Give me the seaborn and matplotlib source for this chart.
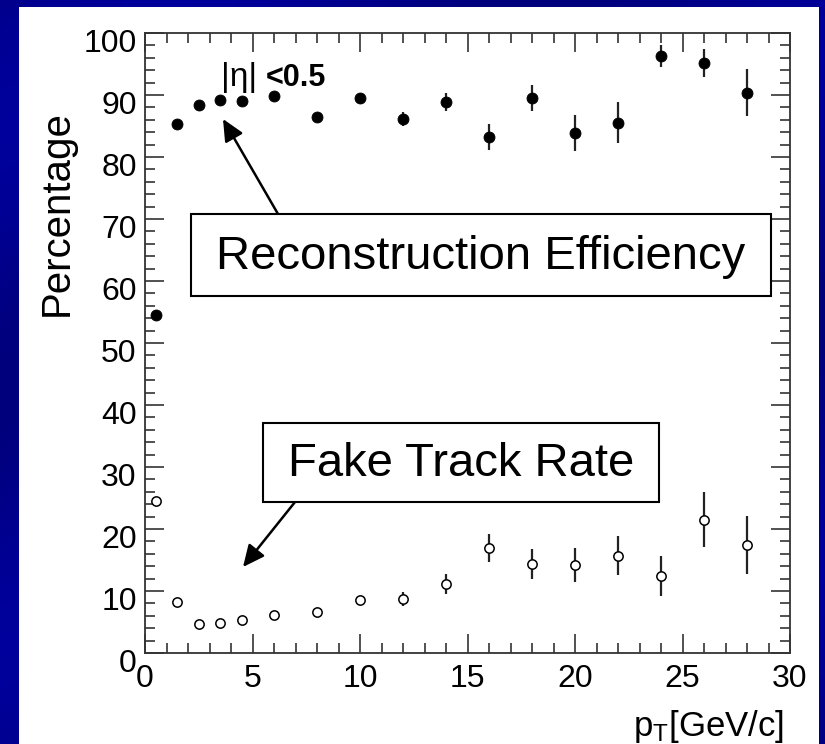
import numpy as np
import pandas as pd
import matplotlib
matplotlib.use("Agg")
import matplotlib.pyplot as plt
import matplotlib.transforms as mtrans
from matplotlib.patches import Rectangle
from matplotlib.ticker import MultipleLocator
from matplotlib.colors import LinearSegmentedColormap
import seaborn as sns

# transverse momentum bins
pt = [0.5, 1.5, 2.5, 3.5, 4.5, 6, 8, 10, 12, 14, 16, 18, 20, 22, 24, 26, 28]

# reconstruction efficiency (%)
eff = [54.5, 85.3, 88.4, 89.2, 89.0, 89.8, 86.4, 89.5, 86.1, 88.9, 83.2, 89.5, 83.8, 85.5, 96.3, 95.2, 90.4]
eff_err = [0.4, 0.4, 0.4, 0.4, 0.4, 0.5, 0.6, 0.7, 1.1, 1.4, 2.15, 2.1, 2.9, 3.3, 1.8, 2.3, 3.8]

# fake track rate (%)
fake = [24.5, 8.3, 4.6, 4.9, 5.3, 6.2, 6.6, 8.5, 8.7, 11.1, 16.9, 14.4, 14.2, 15.7, 12.4, 21.5, 17.4]
fake_err = [0.3, 0.3, 0.3, 0.3, 0.3, 0.4, 0.5, 0.6, 1.1, 1.6, 2.3, 2.4, 2.8, 3.1, 3.2, 4.4, 4.7]

df = pd.DataFrame({"pt": pt, "eff": eff, "fake": fake})

sns.set_theme(style="ticks")
plt.rcParams['font.family'] = ['Liberation Sans', 'DejaVu Sans']
plt.rcParams['mathtext.default'] = 'regular'
plt.rcParams['text.color'] = 'black'

W, H = 825, 744
fig = plt.figure(figsize=(W / 100, H / 100), dpi=100)
fig.patch.set_facecolor('#000088')

def fx(px):
    return px / W

def fy(py):
    return 1 - py / H

# navy slide background with a soft diagonal sheen
bg = fig.add_axes([0, 0, 1, 1], zorder=-10)
gx, gy = np.meshgrid(np.linspace(0, 1, 200), np.linspace(0, 1, 200))
sheen = np.sin((gx * 0.8 + gy) * 9) * 0.5 + 0.5
cmap = LinearSegmentedColormap.from_list('navy', ['#00007c', '#00009c'])
bg.imshow(sheen, cmap=cmap, aspect='auto', extent=[0, 1, 0, 1])
bg.set_axis_off()

# white slide panel (behind the plot axes)
fig.patches.append(Rectangle((fx(19), 0), fx(819) - fx(19), fy(7), transform=fig.transFigure,
                             facecolor='white', edgecolor='none', zorder=-5))

ax = fig.add_axes([fx(145), fy(653), fx(790) - fx(145), fy(33) - fy(653)])
ax.set_facecolor('white')

ax.errorbar(df['pt'], df['eff'], yerr=eff_err, fmt='none', ecolor='#222222', elinewidth=1.6, capsize=0, zorder=2)
ax.errorbar(df['pt'], df['fake'], yerr=fake_err, fmt='none', ecolor='#222222', elinewidth=1.6, capsize=0, zorder=2)
sns.scatterplot(data=df, x='pt', y='eff', ax=ax, marker='o', s=62, color='black', edgecolor='black', zorder=3)
sns.scatterplot(data=df, x='pt', y='fake', ax=ax, marker='o', s=45, facecolor='white', edgecolor='black',
                linewidth=1.1, zorder=3)

ax.set_xlim(0, 30)
ax.set_ylim(0, 100)
ax.set_xlabel('')
ax.set_ylabel('')
ax.xaxis.set_major_locator(MultipleLocator(5))
ax.xaxis.set_minor_locator(MultipleLocator(1))
ax.yaxis.set_major_locator(MultipleLocator(10))
ax.yaxis.set_minor_locator(MultipleLocator(2))
ax.tick_params(which='both', direction='in', top=True, right=True, color='#333333', width=1.2,
               labelsize=23, labelcolor='black')
ax.tick_params(which='major', length=14, pad=6)
ax.tick_params(which='minor', length=7)
ax.tick_params(axis='x', which='major', pad=8)
for sp in ax.spines.values():
    sp.set_color('#333333')
    sp.set_linewidth(1.3)

ax.set_xticks([0, 5, 10, 15, 20, 25, 30])
ax.set_xticklabels(['0', '5', '10', '15', '20', '25', '30'])
# ROOT-like offsets of the tick labels
shift = mtrans.ScaledTranslation(0, -8 / 100, fig.dpi_scale_trans)
for lab in ax.get_yticklabels():
    lab.set_transform(lab.get_transform() + shift)

fig.text(fx(57), fy(213), 'Percentage', rotation=90, ha='center', va='center', fontsize=29)
fig.text(fx(784), fy(736), r'$p_T$[GeV/c]', ha='right', va='baseline', fontsize=25)

fig.text(fx(221), fy(86), '|η|', ha='left', va='baseline', fontsize=24)
fig.text(fx(266), fy(86), '<0.5', ha='left', va='baseline', fontsize=22, fontweight='bold')

# label boxes
for (x0, y0, x1, y1), label in [((191, 214, 771, 296), 'Reconstruction Efficiency'),
                                 ((263, 423, 659, 502), 'Fake Track Rate')]:
    fig.patches.append(Rectangle((fx(x0), fy(y1)), fx(x1) - fx(x0), fy(y0) - fy(y1), transform=fig.transFigure,
                                 facecolor='white', edgecolor='black', linewidth=1.5, zorder=5))
    fig.text(fx((x0 + x1) / 2), fy((y0 + y1) / 2 + 2), label, ha='center', va='center', fontsize=34, zorder=6)

arrow = dict(arrowstyle='-|>,head_length=0.6,head_width=0.28', color='black', lw=1.8, mutation_scale=22,
             shrinkA=0, shrinkB=0)
ax.annotate('', xy=(fx(223), fy(119)), xytext=(fx(278), fy(214)), xycoords='figure fraction',
            textcoords='figure fraction', arrowprops=arrow)
ax.annotate('', xy=(fx(243), fy(567)), xytext=(fx(295), fy(502)), xycoords='figure fraction',
            textcoords='figure fraction', arrowprops=arrow)

fig.savefig('out.png', dpi=100, facecolor=fig.get_facecolor())
